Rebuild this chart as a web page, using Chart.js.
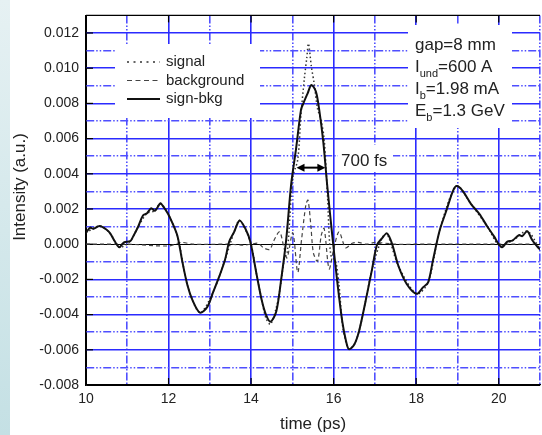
<!DOCTYPE html>
<html>
<head>
<meta charset="utf-8">
<script src="https://cdn.jsdelivr.net/npm/chart.js@4.4.1/dist/chart.umd.min.js"></script>
<style>
  html, body { margin: 0; padding: 0; background: #fff; overflow: hidden; }
  #wrap { position: relative; width: 542px; height: 435px; overflow: hidden; }
  #strip { position: absolute; left: 0; top: 0; width: 10px; height: 435px;
           background: linear-gradient(#e6f1f3, #c4e0e4); }
  #chart { position: absolute; left: 0; top: 0; }
</style>
</head>
<body>
<div id="wrap">
  <div id="strip"></div>
  <canvas id="chart" width="546" height="435"></canvas>
</div>
<script>
// sign-bkg trace (ps, a.u.)
const signBkgTime = [10.0, 10.1, 10.18, 10.33, 10.5, 10.59, 10.7, 10.81, 10.92, 11.07, 11.14, 11.26, 11.38, 11.48,
  11.58, 11.67, 11.8, 11.86, 11.98, 12.1, 12.22, 12.34, 12.46, 12.58, 12.76, 12.94, 13.08, 13.22, 13.37, 13.47,
  13.59, 13.72, 13.86, 13.98, 14.14, 14.26, 14.36, 14.47, 14.61, 14.73, 14.85, 14.97, 15.09, 15.21, 15.27, 15.37,
  15.46, 15.57, 15.65, 15.75, 15.85, 15.97, 16.09, 16.21, 16.3, 16.37, 16.5, 16.62, 16.77, 16.93, 17.05, 17.17,
  17.29, 17.41, 17.57, 17.77, 18.01, 18.17, 18.29, 18.41, 18.57, 18.73, 18.89, 18.98, 19.13, 19.33, 19.53, 19.73,
  19.89, 20.01, 20.09, 20.21, 20.33, 20.49, 20.57, 20.69, 20.81, 20.93, 21.0];
const signBkgValue = [0.00065, 0.00094, 0.00087, 0.00104, 0.00082, 0.0006, 0.00015, -0.00017, 0.0001, 0.00017, 0.00043,
  0.00098, 0.00163, 0.00176, 0.00204, 0.0019, 0.00232, 0.00218, 0.00176, 0.00117, 0.00043, -0.00106, -0.00235,
  -0.00318, -0.00389, -0.00356, -0.00272, -0.00189, -0.00087, 0.00015, 0.0007, 0.00135, 0.00089, 0.00015, -0.0018,
  -0.0032, -0.004, -0.0044, -0.00383, -0.00198, 0.00024, 0.00339, 0.00543, 0.00765, 0.00802, 0.00857, 0.00905,
  0.00867, 0.00765, 0.0058, 0.0032, 0.00043, -0.00217, -0.0044, -0.0055, -0.00596, -0.0057, -0.0049, -0.00328,
  -0.00143, -0.00004, 0.00033, 0.00061, 0.00006, -0.00124, -0.00226, -0.00282, -0.00244, -0.00217, -0.00087,
  0.00079, 0.0019, 0.00302, 0.0033, 0.00302, 0.00228, 0.00172, 0.00098, 0.00043, -0.00004, -0.00017, 0.00015,
  0.0002, 0.00052, 0.00046, 0.00074, 0.00024, -0.00013, -0.0003];

// raw signal (dotted)
const signalTime = [10.0, 10.33, 10.59, 10.81, 11.07, 11.26, 11.48, 11.67, 11.8, 11.98, 12.22, 12.46, 12.76, 13.08,
  13.37, 13.59, 13.72, 13.98, 14.14, 14.26, 14.36, 14.47, 14.6, 14.69, 14.81, 14.88, 15.01, 15.13, 15.21, 15.29,
  15.35, 15.39, 15.46, 15.53, 15.61, 15.69, 15.77, 15.85, 15.93, 16.05, 16.13, 16.21, 16.3, 16.37, 16.5, 16.62,
  16.77, 16.93, 17.17, 17.29, 17.57, 18.01, 18.29, 18.57, 18.98, 19.33, 19.73, 20.01, 20.33, 20.69, 21.0];
const signalValue = [0.00065, 0.00104, 0.0006, -0.00017, 0.00017, 0.00098, 0.00176, 0.0019, 0.00232, 0.00176, 0.00043,
  -0.00235, -0.00389, -0.00272, -0.00087, 0.0007, 0.00135, 0.00015, -0.0018, -0.0032, -0.0042, -0.00455, -0.0037,
  -0.0027, -0.0008, -0.0004, 0.0038, 0.0048, 0.0074, 0.0094, 0.0106, 0.0114, 0.0101, 0.0091, 0.0077, 0.0071,
  0.006, 0.0028, -0.0006, -0.001, -0.0023, -0.0045, -0.0056, -0.00596, -0.0057, -0.0049, -0.00328, -0.00143,
  0.00033, 0.00061, -0.00124, -0.00282, -0.00217, 0.00079, 0.0033, 0.00228, 0.00098, -0.00004, 0.0002, 0.00074,
  -0.0003];

// background (dashed)
const backgroundTime = [10.0, 11.0, 12.0, 12.3, 12.6, 13.5, 13.8, 14.0, 14.17, 14.3, 14.45, 14.55, 14.69, 14.79,
  14.87, 15.01, 15.13, 15.22, 15.33, 15.38, 15.45, 15.51, 15.61, 15.7, 15.77, 15.89, 16.0, 16.13, 16.29, 16.45,
  16.6, 16.8, 17.0, 17.5, 18.0, 19.0, 20.0, 21.0];
const backgroundValue = [0, 0, -0.0001, 0.0001, 0, 0, -0.00005, 0, 0.00005, -0.0002, -0.0003, 0.0002, 0.0007,
  -0.00013, -0.00078, 0.00065, -0.0016, 0.0002, 0.00228, 0.0025, 0.001, -0.0005, -0.00096, 0.0005, 0.0009,
  -0.0014, -0.0003, 0.0007, -0.0002, 0.00005, 0.0001, 0, 0.0001, 0, 0, 0, 0, 0];

const xTickLabels = [10, 12, 14, 16, 18, 20];
const yTickLabels = ['-0.008', '-0.006', '-0.004', '-0.002', '0.000', '0.002', '0.004', '0.006', '0.008', '0.010', '0.012'];

const runParams = [
  [['gap=8 mm', false]],
  [['I', false], ['und', true], ['=600 A', false]],
  [['I', false], ['b', true], ['=1.98 mA', false]],
  [['E', false], ['b', true], ['=1.3 GeV', false]]
];
const fwhmStart = 15.1, fwhmEnd = 15.8, fwhmLevel = 0.00435;
const fwhmLabel = '700 fs';
const yTitle = 'Intensity (a.u.)';

const FONT = '"Liberation Sans", Arial, sans-serif';
Chart.defaults.font.family = FONT;
Chart.defaults.color = '#222';

const toPoints = (t, v) => t.map((x, i) => ({ x: x, y: v[i] }));
const MAJOR = '#2b2bff', MINOR = '#4f4fff';
const GRID_W = 1.6;
const MINOR_DASH = [8, 2, 1.5, 2, 1.5, 2];

function line(ctx, x1, y1, x2, y2) {
  ctx.beginPath();
  ctx.moveTo(x1, y1);
  ctx.lineTo(x2, y2);
  ctx.stroke();
}

const overlay = {
  id: 'overlay',
  beforeDatasetsDraw(chart) {
    const { ctx, chartArea: a, scales: { x, y } } = chart;
    ctx.save();
    // blank panels under the legend, run parameters and width label
    ctx.fillStyle = '#fff';
    ctx.fillRect(115, 44, 145, 74);
    ctx.fillRect(408, 25, 104, 103);
    ctx.fillRect(338, 145, 55, 27);

    // inward ticks + top frame
    ctx.strokeStyle = '#000';
    ctx.lineWidth = 1.2;
    x.ticks.forEach(t => {
      if (t.value % 2 !== 0 || t.value <= x.min || t.value >= x.max) return;
      const px = x.getPixelForValue(t.value);
      line(ctx, px, a.top, px, a.top + 7);
      line(ctx, px, a.bottom, px, a.bottom - 7);
    });
    y.ticks.forEach(t => {
      const k = Math.round(t.value * 1000);
      if (k % 2 !== 0 || t.value <= y.min || t.value >= y.max) return;
      const py = y.getPixelForValue(t.value);
      line(ctx, a.left, py, a.left + 7, py);
    });
    line(ctx, a.left, a.top, a.right, a.top);
    ctx.restore();
  },
  afterDatasetsDraw(chart) {
    const { ctx, scales: { x, y } } = chart;
    ctx.save();

    // legend
    const legendDash = { 'signal': [2, 4.5], 'background': [5, 3.5], 'sign-bkg': [] };
    ctx.font = '15px ' + FONT;
    ctx.textBaseline = 'middle';
    ctx.fillStyle = '#222';
    ['signal', 'background', 'sign-bkg'].forEach((name, i) => {
      const ds = chart.data.datasets.find(d => d.label === name);
      const ly = 62 + i * 18.5;
      ctx.strokeStyle = ds.borderColor;
      ctx.lineWidth = ds.borderWidth;
      ctx.setLineDash(legendDash[name]);
      line(ctx, 127, ly, 160, ly);
      ctx.setLineDash([]);
      ctx.fillText(name, 166, ly);
    });

    // run parameters
    runParams.forEach((parts, i) => {
      let px = 415;
      const py = 45 + i * 22;
      parts.forEach(([txt, sub]) => {
        ctx.font = (sub ? '11px ' : '17px ') + FONT;
        ctx.fillText(txt, px, sub ? py + 7 : py);
        px += ctx.measureText(txt).width;
      });
    });

    // FWHM arrow
    const x1 = x.getPixelForValue(fwhmStart), x2 = x.getPixelForValue(fwhmEnd);
    const ay = y.getPixelForValue(fwhmLevel);
    ctx.strokeStyle = '#000';
    ctx.fillStyle = '#000';
    ctx.lineWidth = 2;
    line(ctx, x1 + 4, ay, x2 - 4, ay);
    [[x1, 1], [x2, -1]].forEach(([hx, dir]) => {
      ctx.beginPath();
      ctx.moveTo(hx, ay);
      ctx.lineTo(hx + dir * 8, ay - 4);
      ctx.lineTo(hx + dir * 8, ay + 4);
      ctx.closePath();
      ctx.fill();
    });
    ctx.fillStyle = '#222';
    ctx.font = '17px ' + FONT;
    ctx.fillText(fwhmLabel, 341, 161);

    // y axis title
    ctx.translate(20, 187);
    ctx.rotate(-Math.PI / 2);
    ctx.textAlign = 'center';
    ctx.fillText(yTitle, 0, 0);
    ctx.restore();
  }
};

new Chart(document.getElementById('chart'), {
  type: 'line',
  data: {
    datasets: [
      { label: 'signal', data: toPoints(signalTime, signalValue), borderColor: '#333', borderWidth: 1.5,
        borderDash: [1.5, 2.5], pointRadius: 0, tension: 0.3, order: 2 },
      { label: 'background', data: toPoints(backgroundTime, backgroundValue), borderColor: '#444', borderWidth: 1.2,
        borderDash: [4, 3], pointRadius: 0, tension: 0.3, order: 3 },
      { label: 'sign-bkg', data: toPoints(signBkgTime, signBkgValue), borderColor: '#111', borderWidth: 2,
        pointRadius: 0, tension: 0.3, order: 1 }
    ]
  },
  options: {
    responsive: false,
    animation: false,
    layout: { padding: { top: 9, right: 2, left: 0, bottom: 0 } },
    plugins: { legend: { display: false }, tooltip: { enabled: false } },
    scales: {
      x: {
        type: 'linear', min: 10, max: 21,
        afterFit: s => { s.height = 50; },
        ticks: {
          stepSize: 1, autoSkip: false, maxRotation: 0, padding: 6,
          font: { size: 14 },
          callback: v => xTickLabels.includes(v) ? String(v) : ''
        },
        grid: {
          drawTicks: false,
          lineWidth: c => c.tick.value === 10 ? 1 : GRID_W,
          color: c => c.tick.value === 10 ? '#000' : (c.tick.value % 2 === 0 ? MAJOR : MINOR)
        },
        border: { color: '#000', width: 1.2,
          dash: c => (c.tick && c.tick.value % 2 !== 0) ? MINOR_DASH : [] },
        title: { display: true, text: 'time (ps)', font: { size: 17 }, padding: { top: 0, bottom: 0 } }
      },
      y: {
        min: -0.008, max: 0.013,
        afterFit: s => { s.width = 86; },
        ticks: {
          stepSize: 0.001, autoSkip: false, padding: 7,
          font: { size: 14 },
          callback: v => {
            const label = (Math.round(v * 1000) / 1000).toFixed(3);
            return yTickLabels.includes(label) ? label : '';
          }
        },
        grid: {
          drawTicks: false,
          lineWidth: c => {
            const k = Math.round(c.tick.value * 1000);
            return (k === 0 || k === -8 || k === 13) ? 1 : GRID_W;
          },
          color: c => {
            const k = Math.round(c.tick.value * 1000);
            if (k === 0 || k === -8 || k === 13) return '#000';
            return k % 2 === 0 ? MAJOR : MINOR;
          }
        },
        border: { color: '#000', width: 1.2,
          dash: c => (c.tick && Math.round(c.tick.value * 1000) % 2 !== 0) ? MINOR_DASH : [] },
        title: { display: false }
      }
    }
  },
  plugins: [overlay]
});
</script>
</body>
</html>
